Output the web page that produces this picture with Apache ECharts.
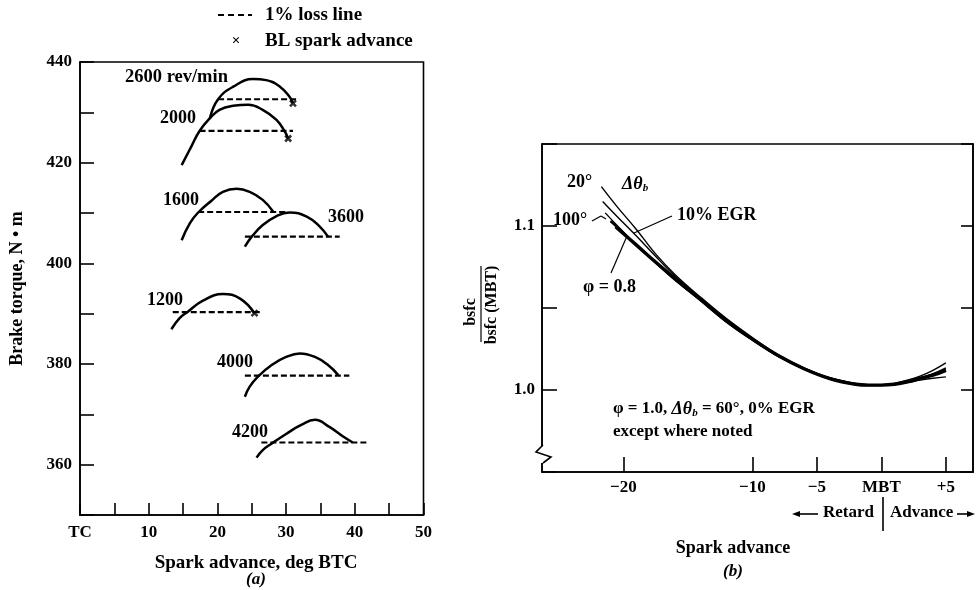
<!DOCTYPE html>
<html><head><meta charset="utf-8">
<script src="https://cdn.jsdelivr.net/npm/echarts@6/dist/echarts.min.js"></script>
<style>html,body{margin:0;padding:0;background:#fff}#c{width:977px;height:590px}</style>
</head><body><div id="c"></div>
<script>
// ---------- Panel (a): brake torque vs spark advance ----------
const x2600 = [18.9, 20.1, 22.3, 25.2, 27.1, 29.1, 30.5, 31.0];
const y2600 = [428.8, 432.6, 435.1, 436.6, 436.4, 435.1, 433.1, 431.8];
const x2000 = [14.8, 16.2, 17.4, 18.9, 20.3, 22.3, 24.5, 26.6, 28.6, 29.8, 30.3];
const y2000 = [419.5, 423.2, 426.3, 428.8, 430.5, 431.3, 431.5, 430.5, 428.5, 426.2, 424.8];
const x1600 = [14.8, 16.0, 17.2, 19.1, 20.8, 22.8, 24.7, 26.6, 28.1];
const y1600 = [404.6, 408.0, 410.1, 412.4, 414.2, 414.8, 414.2, 412.6, 410.3];
const x3600 = [24.0, 25.0, 26.6, 28.6, 30.5, 33.0, 34.9, 36.1];
const y3600 = [403.3, 405.3, 407.6, 409.4, 410.1, 409.3, 407.3, 405.3];
const x1200 = [13.3, 14.5, 15.7, 17.9, 20.8, 23.3, 25.4];
const y1200 = [386.9, 389.1, 390.4, 392.6, 393.9, 393.0, 390.1];
const x4000 = [24.0, 24.7, 25.9, 27.9, 30.0, 32.0, 34.2, 36.1, 37.6];
const y4000 = [373.5, 375.5, 377.5, 379.8, 381.4, 382.1, 381.4, 379.8, 377.8];
const x4200 = [25.7, 26.6, 27.9, 30.0, 32.2, 34.2, 36.3, 38.3, 39.7];
const y4200 = [361.4, 362.9, 364.2, 366.1, 367.9, 368.9, 367.5, 365.6, 364.4];

const speedNames = ['2600', '2000', '1600', '3600', '1200', '4000', '4200'];
const speedX = [x2600, x2000, x1600, x3600, x1200, x4000, x4200];
const speedY = [y2600, y2000, y1600, y3600, y1200, y4000, y4200];

// 1% loss lines (one per speed)
const lossTorque = [432.6, 426.3, 410.2, 405.3, 390.3, 377.7, 364.4];
const lossStart  = [20.1, 17.4, 17.2, 24.0, 13.5, 24.0, 26.4];
const lossEnd    = [31.9, 31.0, 30.0, 37.8, 26.6, 39.2, 42.1];

// BL spark advance points
const blAdvance = [31.0, 30.3, 25.4];
const blTorque  = [431.8, 424.8, 390.1];

// Axis ticks
const aXTicks = [0, 10, 20, 30, 40, 50];
const aYTicks = [360, 380, 400, 420, 440];

// ---------- Panel (b): relative bsfc vs spark advance ----------
const bX20  = [-21.7, -20.5, -19, -17.5, -16, -14, -12, -10, -8, -6, -4, -2, -1, 0, 1, 2, 3, 4, 5];
const bY20  = [1.124, 1.112, 1.098, 1.083, 1.0705, 1.0565, 1.0435, 1.032, 1.0215, 1.0135, 1.0075, 1.004, 1.003, 1.003, 1.004, 1.006, 1.0085, 1.012, 1.0165];
const bXegr = [-21.6, -20.5, -19, -17.5, -16, -14, -12, -10, -8, -6, -4, -2, -1, 0, 1, 2, 3, 4, 5];
const bYegr = [1.115, 1.106, 1.094, 1.0815, 1.0695, 1.0558, 1.043, 1.0315, 1.0212, 1.0133, 1.0073, 1.0038, 1.003, 1.003, 1.0037, 1.0053, 1.0075, 1.0100, 1.0135];
const bX100 = [-21.4, -20.5, -19, -17.5, -16, -14, -12, -10, -8, -6, -4, -2, -1, 0, 1, 2, 3, 4, 5];
const bY100 = [1.108, 1.1005, 1.0885, 1.0775, 1.067, 1.0545, 1.0415, 1.0305, 1.0205, 1.0128, 1.0068, 1.0033, 1.0028, 1.0028, 1.0032, 1.0045, 1.006, 1.0072, 1.008];
const bXphi = [-21.0, -20.5, -19, -17.5, -16, -14, -12, -10, -8, -6, -4, -2, -1, 0, 1, 2, 3, 4, 5];
const bYphi = [1.103, 1.0995, 1.0885, 1.078, 1.0675, 1.0548, 1.0418, 1.0308, 1.0208, 1.013, 1.007, 1.0035, 1.003, 1.003, 1.0035, 1.005, 1.007, 1.0095, 1.0125];
const bXbase = [-20.6, -19, -17.5, -16, -14, -12, -10, -8, -6, -4, -2, -1, 0, 1, 2, 3, 4, 5];
const bYbase = [1.0995, 1.0885, 1.078, 1.068, 1.055, 1.042, 1.031, 1.021, 1.013, 1.007, 1.0035, 1.003, 1.003, 1.0035, 1.005, 1.007, 1.009, 1.012];

const bXTicks = [-20, -10, -5, 0, 5];
const bXTickLabels = ['\u221220', '\u221210', '\u22125', 'MBT', '+5'];
const bYTicks = [1.0, 1.1];
const bYTickLabels = ['1.0', '1.1'];

// ---------------------------------------------------------------
const F = 'Liberation Serif';
const BLACK = '#000';
const zip = (xs, ys) => xs.map((x, i) => [x, ys[i]]);

const series = [];
speedNames.forEach((n, i) => {
  series.push({
    name: n, type: 'line', xAxisIndex: 0, yAxisIndex: 0,
    data: zip(speedX[i], speedY[i]), smooth: 0.45, showSymbol: false, symbol: 'none',
    lineStyle: { color: BLACK, width: 2.5 }, silent: true
  });
});
const lossData = [];
lossTorque.forEach((t, i) => { lossData.push([lossStart[i], t], [lossEnd[i], t], [null, null]); });
series.push({
  name: '1% loss line', type: 'line', xAxisIndex: 0, yAxisIndex: 0, data: lossData,
  connectNulls: false, symbol: 'none', showSymbol: false,
  lineStyle: { color: BLACK, width: 2.2, type: [6, 3] }
});
series.push({
  name: 'BL spark advance', type: 'scatter', xAxisIndex: 0, yAxisIndex: 0,
  data: zip(blAdvance, blTorque), symbol: 'path://M0,0 L10,10 M10,0 L0,10', symbolSize: 6,
  itemStyle: { color: BLACK, borderColor: BLACK, borderWidth: 2.5 }
});

const bCurves = [
  ['20\u00b0', bX20, bY20, 1.4],
  ['10% EGR', bXegr, bYegr, 1.4],
  ['100\u00b0', bX100, bY100, 1.4],
  ['\u03c6 = 0.8', bXphi, bYphi, 2.2],
  ['base', bXbase, bYbase, 3.4]
];
bCurves.forEach(c => {
  series.push({
    name: c[0], type: 'line', xAxisIndex: 1, yAxisIndex: 1,
    data: zip(c[1], c[2]), smooth: 0.4, symbol: 'none', showSymbol: false,
    lineStyle: { color: BLACK, width: c[3] }
  });
});

const tickFont = { color: BLACK, fontFamily: F, fontWeight: 'bold', fontSize: 17 };
const axLine = { show: true, onZero: false, lineStyle: { color: BLACK, width: 1.6 } };

function txt(x, y, text, opt) {
  return Object.assign({
    type: 'text', x: x, y: y, z: 50,
    style: Object.assign({ text: text, fill: BLACK, fontFamily: F, fontWeight: 'bold', fontSize: 18,
      textAlign: 'left', textVerticalAlign: 'middle' }, (opt && opt.style) || {})
  }, (opt && opt.el) || {});
}
function ln(x1, y1, x2, y2, w, dash) {
  return { type: 'line', z: 50, shape: { x1, y1, x2, y2 }, style: { stroke: BLACK, lineWidth: w || 1.2, lineDash: dash || null } };
}
function head(points) {
  return { type: 'polygon', z: 50, shape: { points: points }, style: { fill: BLACK } };
}
const subRich = {
  g: { fontFamily: F, fontWeight: 'bold', fontStyle: 'italic', fontSize: 18 },
  n: { fontFamily: F, fontWeight: 'bold', fontSize: 17 },
  s: { fontFamily: F, fontWeight: 'bold', fontStyle: 'italic', fontSize: 11, padding: [9, 0, 0, 0] }
};

const graphic = [
  // legend (panel a)
  ln(218, 15, 252, 15, 2.2, [6, 4]),
  txt(265, 15, '1% loss line', { style: { fontSize: 19 } }),
  txt(236, 41, '\u00d7', { style: { textAlign: 'center', fontSize: 15 } }),
  txt(265, 41, 'BL spark advance', { style: { fontSize: 19 } }),
  // speed labels
  txt(125, 77, '2600 rev/min', { style: { fontSize: 18.5 } }),
  txt(160, 118, '2000'),
  txt(163, 200, '1600'),
  txt(328, 217, '3600'),
  txt(147, 300, '1200'),
  txt(217, 362, '4000'),
  txt(232, 432, '4200'),
  // panel a x title
  txt(256, 563, 'Spark advance, deg BTC', { style: { textAlign: 'center', fontSize: 19 } }),
  txt(256, 580, '(a)', { style: { textAlign: 'center', fontStyle: 'italic', fontSize: 17 } }),

  // panel b annotations
  txt(567, 182, '20\u00b0'),
  { type: 'text', x: 622, y: 184, z: 50, style: { text: '{g|\u0394\u03b8}{s|b}', rich: subRich, fill: BLACK, textVerticalAlign: 'middle' } },
  txt(553, 220, '100\u00b0'),
  ln(592, 221, 601, 216), ln(601, 216, 606, 219),
  txt(677, 215, '10% EGR'),
  ln(672, 216, 634, 233),
  txt(583, 287, '\u03c6 = 0.8'),
  ln(611, 273, 627, 236),
  { type: 'text', x: 613, y: 409, z: 50, style: { text: '{n|\u03c6 = 1.0, }{g|\u0394\u03b8}{s|b}{n| = 60\u00b0, 0% EGR}', rich: subRich, fill: BLACK, textVerticalAlign: 'middle' } },
  txt(613, 432, 'except where noted', { style: { fontSize: 17 } }),
  txt(733, 548, 'Spark advance', { style: { textAlign: 'center' } }),
  txt(733, 572, '(b)', { style: { textAlign: 'center', fontStyle: 'italic', fontSize: 17 } }),
  // Retard | Advance
  ln(797, 514, 818, 514, 1.6), head([[792, 514], [800, 511], [800, 517]]),
  txt(874, 513, 'Retard', { style: { textAlign: 'right', fontSize: 17 } }),
  ln(883, 497, 883, 531, 1.6),
  txt(890, 513, 'Advance', { style: { fontSize: 17 } }),
  ln(957, 514, 970, 514, 1.6), head([[975, 514], [967, 511], [967, 517]]),
  // y label fraction
  txt(471, 312, 'bsfc', { el: { rotation: Math.PI / 2 }, style: { textAlign: 'center', fontSize: 16 } }),
  ln(481, 266, 481, 342, 1.2),
  txt(492, 305, 'bsfc (MBT)', { el: { rotation: Math.PI / 2 }, style: { textAlign: 'center', fontSize: 16 } }),
  // axis break on left axis of panel b
  { type: 'rect', z: 60, shape: { x: 538, y: 446, width: 10, height: 17 }, style: { fill: '#fff' } },
  { type: 'polyline', z: 61, shape: { points: [[543, 445], [536, 452], [551, 457], [543, 463]] }, style: { stroke: BLACK, lineWidth: 1.6, fill: null } }
];

const option = {
  animation: false,
  backgroundColor: '#fff',
  grid: [
    { left: 80, top: 62, width: 343.5, height: 453, show: true, borderColor: BLACK, borderWidth: 1.6, containLabel: false },
    { left: 542, top: 144, width: 431, height: 328, show: true, borderColor: BLACK, borderWidth: 1.6, containLabel: false }
  ],
  xAxis: [
    { gridIndex: 0, type: 'value', min: 0, max: 50, interval: 5,
      axisLine: axLine,
      axisTick: { inside: true, length: 12, lineStyle: { color: BLACK, width: 1.6 } },
      axisLabel: Object.assign({ margin: 9, formatter: v => aXTicks.indexOf(v) < 0 ? '' : (v === 0 ? 'TC' : String(v)) }, tickFont),
      splitLine: { show: false } },
    { gridIndex: 1, type: 'value', min: -26.3, max: 7.1,
      axisLine: axLine,
      axisTick: { inside: true, length: 15, customValues: bXTicks, lineStyle: { color: BLACK, width: 1.6 } },
      axisLabel: Object.assign({ margin: 7, customValues: bXTicks, formatter: v => { const i = bXTicks.indexOf(v); return i < 0 ? '' : bXTickLabels[i]; } }, tickFont),
      splitLine: { show: false } }
  ],
  yAxis: [
    { gridIndex: 0, type: 'value', min: 350, max: 440, interval: 10,
      name: 'Brake torque, N \u2022 m', nameLocation: 'middle', nameGap: 54,
      nameTextStyle: { color: BLACK, fontFamily: F, fontWeight: 'bold', fontSize: 18 },
      axisLine: axLine,
      axisTick: { inside: true, length: 14, lineStyle: { color: BLACK, width: 1.6 } },
      axisLabel: Object.assign({ margin: 8, formatter: v => aYTicks.indexOf(v) < 0 ? '' : String(v) }, tickFont),
      splitLine: { show: false } },
    { gridIndex: 1, type: 'value', min: 0.95, max: 1.15, interval: 0.05,
      axisLine: axLine,
      axisTick: { inside: true, length: 15, lineStyle: { color: BLACK, width: 1.6 } },
      axisLabel: Object.assign({ margin: 7, formatter: v => { const i = bYTicks.findIndex(t => Math.abs(t - v) < 1e-6); return i < 0 ? '' : bYTickLabels[i]; } }, tickFont),
      splitLine: { show: false } },
    { gridIndex: 1, type: 'value', min: 0.95, max: 1.15, interval: 0.05, position: 'right',
      axisLine: axLine,
      axisTick: { inside: true, length: 12, lineStyle: { color: BLACK, width: 1.6 } },
      axisLabel: { show: false },
      splitLine: { show: false } }
  ],
  series: series,
  graphic: graphic
};

const chart = echarts.init(document.getElementById('c'), null, { renderer: 'canvas' });
chart.setOption(option);
</script></body></html>
